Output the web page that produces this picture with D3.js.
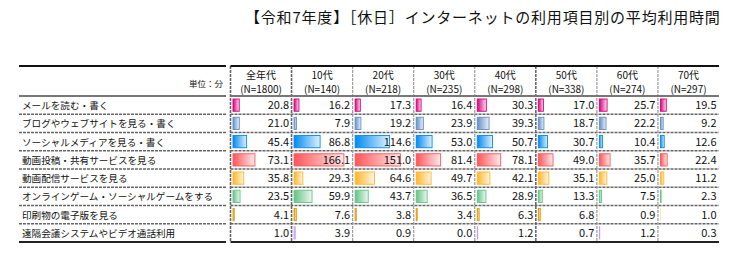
<!DOCTYPE html>
<html>
<head>
<meta charset="utf-8">
<script src="https://cdn.jsdelivr.net/npm/d3@7"></script>
<style>
  body { margin: 0; background: #fff; }
  text { font-family: "Noto Sans CJK JP", "Noto Sans", sans-serif; fill: #111; }
</style>
</head>
<body>
<div id="chart"></div>
<script>
const title = "【令和7年度】［休日］インターネットの利用項目別の平均利用時間";
const unitLabel = "単位：分";
const cohorts = ["全年代", "10代", "20代", "30代", "40代", "50代", "60代", "70代"];
const sampleN = [1800, 140, 218, 235, 298, 338, 274, 297];
const items = [
  "メールを読む・書く",
  "ブログやウェブサイトを見る・書く",
  "ソーシャルメディアを見る・書く",
  "動画投稿・共有サービスを見る",
  "動画配信サービスを見る",
  "オンラインゲーム・ソーシャルゲームをする",
  "印刷物の電子版を見る",
  "遠隔会議システムやビデオ通話利用"
];
const mail       = [20.8, 16.2, 17.3, 16.4, 30.3, 17.0, 25.7, 19.5];
const blog       = [21.0, 7.9, 19.2, 23.9, 39.3, 18.7, 22.2, 9.2];
const social     = [45.4, 86.8, 114.6, 53.0, 50.7, 30.7, 10.4, 12.6];
const videoShare = [73.1, 166.1, 151.0, 81.4, 78.1, 49.0, 35.7, 22.4];
const streaming  = [35.8, 29.3, 64.6, 49.7, 42.1, 35.1, 25.0, 11.2];
const games      = [23.5, 59.9, 43.7, 36.5, 28.9, 13.3, 7.5, 2.3];
const ebooks     = [4.1, 7.6, 3.8, 3.4, 6.3, 6.8, 0.9, 1.0];
const webConf    = [1.0, 3.9, 0.9, 0.0, 1.2, 0.7, 1.2, 0.3];

const series = [mail, blog, social, videoShare, streaming, games, ebooks, webConf];
const colors = ["#d6007b", "#638ec6", "#008aef", "#ff555a", "#ffb628", "#63c384", "#e09a00", "#c89cf2"];

const width = 735, height = 257;
const svg = d3.select("#chart").append("svg")
  .attr("width", width)
  .attr("height", height);

// grid geometry
const labelLeft = 19, labelRight = 226;
const tableTop = 66, headBottom = 96, tableBottom = 242;

const x = d3.scaleBand().domain(cohorts).range([230.5, 719]);
const y = d3.scaleBand().domain(items).range([headBottom, tableBottom]);
const barLen = d3.scaleLinear().domain([0, 200]).range([0, 60]);

// gradients for the data bars
const defs = svg.append("defs");
colors.forEach((c, i) => {
  const g = defs.append("linearGradient").attr("id", "grad" + i);
  g.append("stop").attr("offset", "0%").attr("stop-color", c);
  g.append("stop").attr("offset", "100%").attr("stop-color", d3.interpolateRgb(c, "#fff")(0.88));
});

svg.append("text")
  .attr("x", 245)
  .attr("y", 23)
  .attr("font-size", 15)
  .attr("letter-spacing", 0.8)
  .text(title);

// header
svg.append("text")
  .attr("x", labelRight - 3)
  .attr("y", 87)
  .attr("font-size", 8.5)
  .attr("text-anchor", "end")
  .text(unitLabel);

const head = svg.append("g")
  .attr("font-size", 10)
  .attr("text-anchor", "middle")
  .selectAll("text")
  .data(cohorts)
  .join("text")
  .attr("transform", d => `translate(${x(d) + x.bandwidth() / 2},0)`);
head.append("tspan").attr("x", 0).attr("y", 79).text(d => d);
head.append("tspan").attr("x", 0).attr("y", 93).text((d, i) => `(N=${sampleN[i]})`);

// row labels
svg.append("g")
  .attr("font-size", 9.6)
  .selectAll("text")
  .data(items)
  .join("text")
  .attr("x", labelLeft + 3)
  .attr("y", d => y(d) + y.bandwidth() / 2 + 4)
  .text(d => d);

// bars + values
const rows = svg.append("g")
  .selectAll("g")
  .data(series)
  .join("g")
  .attr("transform", (d, i) => `translate(0,${y(items[i])})`);

rows.selectAll("rect")
  .data((d, i) => d.map(v => ({ v, i })))
  .join("rect")
  .attr("x", (d, j) => x(cohorts[j]) + 2.5)
  .attr("y", 3)
  .attr("height", y.bandwidth() - 6)
  .attr("width", d => barLen(d.v))
  .attr("fill", d => `url(#grad${d.i})`)
  .attr("stroke", d => colors[d.i])
  .attr("stroke-width", d => barLen(d.v) < 0.35 ? 0 : 0.9)
  .attr("display", d => d.v > 0 ? null : "none");

rows.selectAll("text")
  .data(d => d)
  .join("text")
  .attr("x", (d, j) => x(cohorts[j]) + x.bandwidth() - 2.5)
  .attr("y", y.bandwidth() / 2 + 4)
  .attr("font-size", 11)
  .attr("text-anchor", "end")
  .text(d => d.toFixed(1));

// grid lines
const grid = svg.append("g").attr("fill", "none");

// row separators
items.slice(1).forEach(it => {
  grid.append("line")
    .attr("x1", labelLeft).attr("x2", labelRight)
    .attr("y1", y(it)).attr("y2", y(it))
    .attr("stroke", "#666").attr("stroke-width", 1.6)
    .attr("stroke-dasharray", "3,1");
  grid.append("line")
    .attr("x1", 230.5).attr("x2", 719)
    .attr("y1", y(it)).attr("y2", y(it))
    .attr("stroke", "#666").attr("stroke-width", 1.6)
    .attr("stroke-dasharray", "3,1");
});

// column separators
cohorts.forEach((c, j) => {
  const dark = j === 0 || j === 1 || j === 5;
  grid.append("line")
    .attr("x1", x(c)).attr("x2", x(c))
    .attr("y1", tableTop).attr("y2", tableBottom)
    .attr("stroke", dark ? "#666" : "#999")
    .attr("stroke-width", dark ? 1.6 : 1.2)
    .attr("stroke-dasharray", "3,1");
});

// header top/bottom and table bottom
[[labelLeft, labelRight], [230.5, 719]].forEach(([a, b]) => {
  grid.append("line")
    .attr("x1", a).attr("x2", b)
    .attr("y1", headBottom).attr("y2", headBottom)
    .attr("stroke", "#777").attr("stroke-width", 2);
  grid.append("line")
    .attr("x1", a).attr("x2", b)
    .attr("y1", tableTop).attr("y2", tableTop)
    .attr("stroke", "#111").attr("stroke-width", 2);
  grid.append("line")
    .attr("x1", a).attr("x2", b)
    .attr("y1", tableBottom).attr("y2", tableBottom)
    .attr("stroke", "#222").attr("stroke-width", 2);
});
</script>
</body>
</html>
